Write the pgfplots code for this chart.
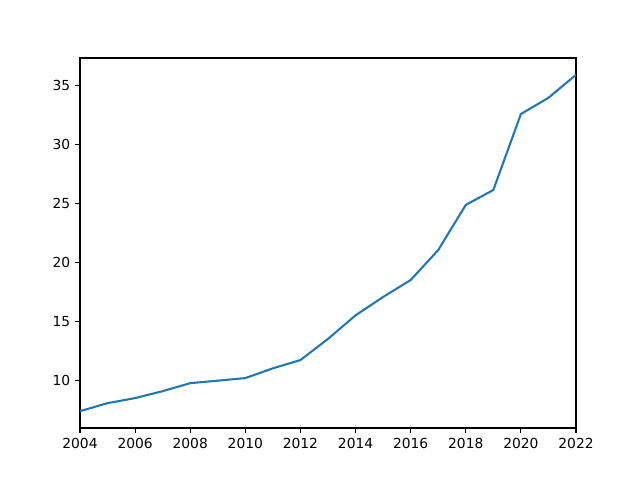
\documentclass[border=0pt]{standalone}
\usepackage{fontspec}
\setmainfont{DejaVu Sans}
\usepackage{pgfplots}
\pgfplotsset{compat=1.18}
\definecolor{mplblue}{HTML}{1F77B4}
\begin{document}
\begin{tikzpicture}
\path[use as bounding box] (0,0) rectangle (6.4in,4.8in);
\begin{axis}[
  at={(0.8in,0.52in)}, anchor=south west,
  scale only axis, width=4.96in, height=3.7in,
  xmin=2004, xmax=2022, ymin=5.93, ymax=37.36,
  xtick={2004,2006,...,2022},
  ytick={10,15,...,35},
  tick align=outside, tick pos=left,
  major tick length=3.5pt,
  every tick/.style={black, line width=0.8pt},
  axis line style={line width=0.8pt},
  /pgf/number format/1000 sep={},
  /pgf/number format/assume math mode=true,
  tick label style={font=\fontsize{10}{12}\selectfont},
]
\addplot[mplblue, line width=1.5pt] coordinates {
(2004,7.36) (2005,8.04) (2006,8.47) (2007,9.06) (2008,9.74) (2009,9.95)
(2010,10.17) (2011,11.0) (2012,11.7) (2013,13.5) (2014,15.5) (2015,17.06)
(2016,18.5) (2017,21.05) (2018,24.88) (2019,26.15) (2020,32.6) (2021,33.98) (2022,35.93)
};
\end{axis}
\end{tikzpicture}
\end{document}
